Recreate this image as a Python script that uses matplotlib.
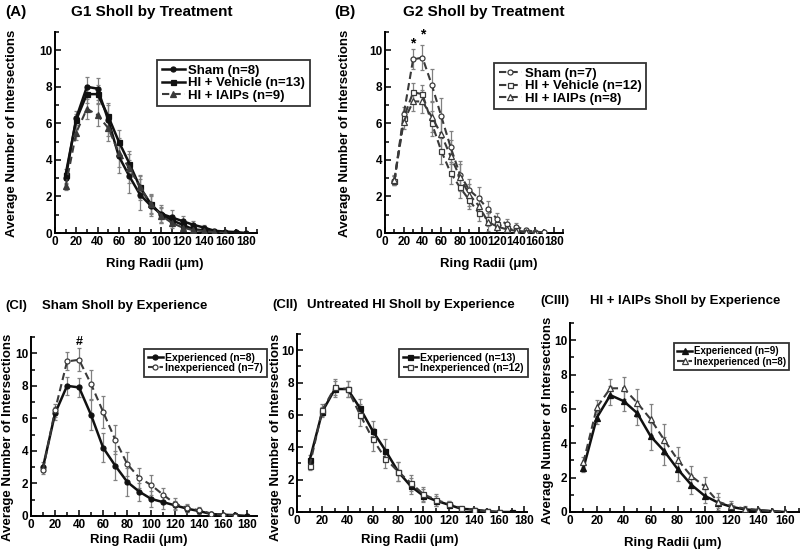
import matplotlib
matplotlib.use("Agg")
import matplotlib.pyplot as plt
from matplotlib.ticker import MultipleLocator

plt.rcParams['font.family'] = ['Liberation Sans', 'DejaVu Sans']
plt.rcParams['font.weight'] = 'bold'

# ---------------- data ----------------
radii_sham_exp = [10, 20, 30, 40, 50, 60, 70, 80, 90, 100, 110, 120, 130, 140, 150, 160, 170, 180]
sham_exp = [3.0, 6.3, 8.0, 7.9, 6.2, 4.2, 3.1, 2.1, 1.5, 1.05, 0.85, 0.65, 0.45, 0.3, 0.12, 0.08, 0.05, 0.0]
sham_exp_se = [0.3, 0.4, 0.55, 0.6, 0.9, 0.9, 0.9, 0.85, 0.55, 0.5, 0.4, 0.3, 0.2, 0.15, 0.08, 0.05, 0.03, 0.0]

radii_sham_inexp = [10, 20, 30, 40, 50, 60, 70, 80, 90, 100, 110, 120, 130, 140, 150, 160, 170]
sham_inexp = [2.85, 6.5, 9.5, 9.6, 8.1, 6.4, 4.7, 3.2, 2.35, 1.9, 1.3, 0.75, 0.5, 0.35, 0.15, 0.08, 0.03]
sham_inexp_se = [0.25, 0.4, 0.55, 0.7, 0.9, 1.0, 0.9, 0.75, 0.6, 0.6, 0.45, 0.35, 0.25, 0.2, 0.1, 0.05, 0.03]

radii_veh_exp = [10, 20, 30, 40, 50, 60, 70, 80, 90, 100, 110, 120, 130, 140, 150, 160, 170]
veh_exp = [3.2, 6.2, 7.6, 7.6, 6.4, 5.0, 3.8, 2.5, 1.6, 1.0, 0.7, 0.45, 0.2, 0.15, 0.05, 0.0, 0.0]
veh_exp_se = [0.3, 0.3, 0.5, 0.5, 0.6, 0.65, 0.7, 0.6, 0.5, 0.4, 0.3, 0.2, 0.1, 0.08, 0.05, 0.0, 0.0]

radii_veh_inexp = [10, 20, 30, 40, 50, 60, 70, 80, 90, 100, 110, 120, 130, 140, 150, 160]
veh_inexp = [2.85, 6.3, 7.7, 7.6, 6.0, 4.5, 3.3, 2.5, 1.8, 1.1, 0.75, 0.5, 0.25, 0.15, 0.05, 0.0]
veh_inexp_se = [0.25, 0.35, 0.5, 0.5, 0.7, 0.7, 0.6, 0.6, 0.5, 0.45, 0.35, 0.2, 0.12, 0.08, 0.04, 0.0]

radii_iaip_exp = [10, 20, 30, 40, 50, 60, 70, 80, 90, 100, 110, 120, 130, 140, 150, 160]
iaip_exp = [2.55, 5.5, 6.8, 6.45, 5.75, 4.4, 3.55, 2.5, 1.6, 0.95, 0.55, 0.3, 0.15, 0.1, 0.05, 0.0]
iaip_exp_se = [0.2, 0.4, 0.55, 0.6, 0.7, 0.8, 0.8, 0.7, 0.55, 0.4, 0.3, 0.2, 0.12, 0.08, 0.04, 0.0]

radii_iaip_inexp = [10, 20, 30, 40, 50, 60, 70, 80, 90, 100, 110, 120, 130, 140, 150, 160]
iaip_inexp = [2.9, 6.1, 7.2, 7.2, 6.35, 5.4, 4.2, 3.05, 2.1, 1.5, 0.6, 0.35, 0.2, 0.12, 0.05, 0.0]
iaip_inexp_se = [0.3, 0.4, 0.55, 0.65, 0.8, 0.9, 0.9, 0.75, 0.6, 0.55, 0.5, 0.3, 0.15, 0.1, 0.05, 0.0]

W, H = 800, 556
fig = plt.figure(figsize=(8, 5.56), dpi=100)

def ax_px(l, r, b, t):
    return fig.add_axes([l / W, 1 - b / H, (r - l) / W, (b - t) / H])

def ftext(x, y, s, **kw):
    fig.text(x / W, 1 - y / H, s, **kw)

SOLID = '#111111'
DASH = '#3a3a3a'
ERR = '#808080'

def series(ax, x, y, e, marker, filled, dashed, label):
    col = SOLID if not dashed else DASH
    ax.errorbar(x, y, yerr=e, fmt='none', ecolor=ERR, elinewidth=0.9,
                capsize=1.6, capthick=0.9, zorder=2)
    ms = 3.6 if marker != '^' else 4.0
    ax.plot(x, y, color=col, lw=1.8 if not dashed else 1.5,
            ls=(0, (3.5, 2)) if dashed else '-', marker=marker, ms=ms,
            mfc=(col if filled else 'white'), mec=col, mew=0.9,
            label=label, zorder=3)

def style(ax, xmax):
    ax.set_xlim(0, xmax)
    ax.set_ylim(0, 11)
    for s in ['top', 'right']:
        ax.spines[s].set_visible(False)
    for s in ['left', 'bottom']:
        ax.spines[s].set_linewidth(1.4)
    ax.xaxis.set_major_locator(MultipleLocator(20))
    ax.xaxis.set_minor_locator(MultipleLocator(10))
    ax.yaxis.set_major_locator(MultipleLocator(2))
    ax.yaxis.set_minor_locator(MultipleLocator(1))
    ax.tick_params(which='both', direction='in', width=1.1, labelsize=8.5, pad=2)
    ax.tick_params(which='major', length=4)
    ax.tick_params(which='minor', length=3)
    for lab in ax.get_xticklabels() + ax.get_yticklabels():
        lab.set_fontweight('bold')

def legend(ax, x, y, fs, hl=1.8):
    lg = ax.legend(loc='upper left', bbox_to_anchor=(x / W, 1 - y / H),
                   bbox_transform=fig.transFigure, fontsize=fs, frameon=True,
                   fancybox=False, edgecolor='black', handlelength=hl,
                   handletextpad=0.2, borderpad=0.35, labelspacing=0.02,
                   borderaxespad=0)
    lg.get_frame().set_linewidth(1.3)
    for t in lg.get_texts():
        t.set_fontweight('bold')
    return lg

# ---------------- Panel A ----------------
axA = ax_px(55, 257, 233, 32)
series(axA, radii_sham_exp, sham_exp, sham_exp_se, 'o', True, False, 'Sham (n=8)')
series(axA, radii_veh_exp, veh_exp, veh_exp_se, 's', True, False, 'HI + Vehicle (n=13)')
series(axA, radii_iaip_exp, iaip_exp, iaip_exp_se, '^', True, True, 'HI + IAIPs (n=9)')
style(axA, 190)
legend(axA, 157, 60, 9.5)
ftext(5, 12, '(A)', fontsize=11, fontweight='bold', va='center', ha='left')
ftext(152, 12, 'G1 Sholl by Treatment', fontsize=11, fontweight='bold', va='center', ha='center')
ftext(12, 133, 'Average Number of Intersections', fontsize=9.5, fontweight='bold',
      rotation=90, va='center', ha='center')
ftext(155, 264, 'Ring Radii (μm)', fontsize=9.5, fontweight='bold', va='center', ha='center')

# ---------------- Panel B ----------------
axB = ax_px(385, 563, 233, 32)
series(axB, radii_sham_inexp, sham_inexp, sham_inexp_se, 'o', False, True, 'Sham (n=7)')
series(axB, radii_veh_inexp, veh_inexp, veh_inexp_se, 's', False, True, 'HI + Vehicle (n=12)')
series(axB, radii_iaip_inexp, iaip_inexp, iaip_inexp_se, '^', False, True, 'HI + IAIPs (n=8)')
style(axB, 190)
legend(axB, 494, 63, 9.5)
axB.text(30, 10.35, '*', ha='center', va='center', fontsize=10, fontweight='bold')
axB.text(40, 10.85, '*', ha='center', va='center', fontsize=10, fontweight='bold')
ftext(334, 12, '(B)', fontsize=11, fontweight='bold', va='center', ha='left')
ftext(484, 12, 'G2 Sholl by Treatment', fontsize=11, fontweight='bold', va='center', ha='center')
ftext(345, 133, 'Average Number of Intersections', fontsize=9.5, fontweight='bold',
      rotation=90, va='center', ha='center')
ftext(489, 264, 'Ring Radii (μm)', fontsize=9.5, fontweight='bold', va='center', ha='center')

# ---------------- Panel CI ----------------
axC1 = ax_px(31, 257, 516, 337)
series(axC1, radii_sham_exp, sham_exp, sham_exp_se, 'o', True, False, 'Experienced (n=8)')
series(axC1, radii_sham_inexp, sham_inexp, sham_inexp_se, 'o', False, True, 'Inexperienced (n=7)')
style(axC1, 188)
legend(axC1, 144, 349, 7.5, hl=1.5)
axC1.text(40, 10.7, '#', ha='center', va='center', fontsize=9, fontweight='bold')
ftext(5, 306, '(CI)', fontsize=9.5, fontweight='bold', va='center', ha='left')
ftext(125, 306, 'Sham Sholl by Experience', fontsize=9.5, fontweight='bold', va='center', ha='center')
ftext(8, 437, 'Average Number of Intersections', fontsize=9.5, fontweight='bold',
      rotation=90, va='center', ha='center')
ftext(139, 540, 'Ring Radii (μm)', fontsize=9.5, fontweight='bold', va='center', ha='center')

# ---------------- Panel CII ----------------
axC2 = ax_px(297, 527, 512, 334)
series(axC2, radii_veh_exp, veh_exp, veh_exp_se, 's', True, False, 'Experienced (n=13)')
series(axC2, radii_veh_inexp, veh_inexp, veh_inexp_se, 's', False, True, 'Inexperienced (n=12)')
style(axC2, 182)
legend(axC2, 399, 349, 7.5, hl=1.5)
ftext(272, 305, '(CII)', fontsize=9.5, fontweight='bold', va='center', ha='left')
ftext(411, 305, 'Untreated HI Sholl by Experience', fontsize=9.5, fontweight='bold', va='center', ha='center')
ftext(276, 437, 'Average Number of Intersections', fontsize=9.5, fontweight='bold',
      rotation=90, va='center', ha='center')
ftext(410, 540, 'Ring Radii (μm)', fontsize=9.5, fontweight='bold', va='center', ha='center')

# ---------------- Panel CIII ----------------
axC3 = ax_px(570, 800, 512, 323)
series(axC3, radii_iaip_exp, iaip_exp, iaip_exp_se, '^', True, False, 'Experienced (n=9)')
series(axC3, radii_iaip_inexp, iaip_inexp, iaip_inexp_se, '^', False, True, 'Inexperienced (n=8)')
style(axC3, 171)
legend(axC3, 674, 343, 7, hl=1.5)
ftext(540, 301, '(CIII)', fontsize=9.5, fontweight='bold', va='center', ha='left')
ftext(685, 301, 'HI + IAIPs Sholl by Experience', fontsize=9.5, fontweight='bold', va='center', ha='center')
ftext(548, 420, 'Average Number of Intersections', fontsize=9.5, fontweight='bold',
      rotation=90, va='center', ha='center')
ftext(673, 543, 'Ring Radii (μm)', fontsize=9.5, fontweight='bold', va='center', ha='center')

fig.savefig('out.png', dpi=100)
